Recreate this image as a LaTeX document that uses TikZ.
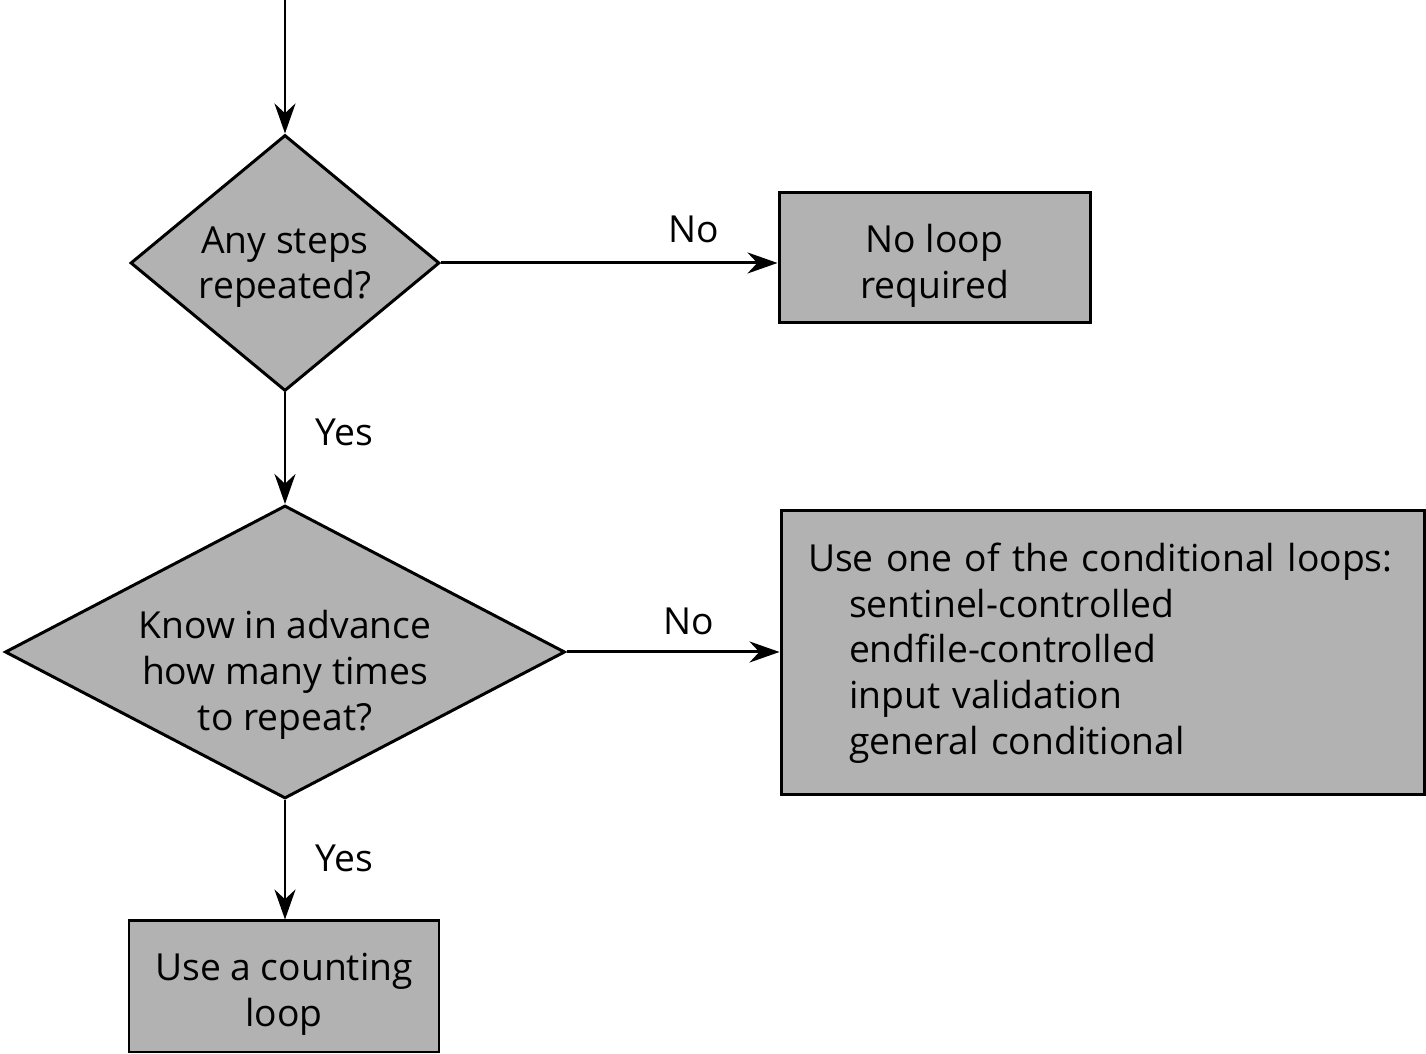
\documentclass[tikz,border=0pt]{standalone}
\usepackage{fontspec}
\setmainfont{Open Sans}
\usepackage{xcolor}
\usepackage{tikz}
\usetikzlibrary{arrows.meta, positioning, calc}
\usetikzlibrary{shapes.geometric}
\definecolor{boxgray}{RGB}{178,178,178}
\newcommand{\dropline}[1]{\rule{0pt}{#1}}

\begin{document}
\begin{tikzpicture}[
  font=\fontsize{10.6}{13}\selectfont,
  decision/.style={diamond, draw, fill=boxgray, line width=0.85pt, inner sep=0pt, align=center},
  action/.style={rectangle, draw, fill=boxgray, line width=0.85pt, align=center},
  flow/.style={-{Stealth[length=3mm,width=2.1mm]}, line width=0.85pt}
]
% Frame
\useasboundingbox (0,0) rectangle (14.26,10.54);
% Entry point
\coordinate (entry) at (2.85,10.54);
% Decisions
\node[decision, aspect=1.2, minimum width=3.09cm, minimum height=2.56cm] (steps) at (2.85,7.91) {\dropline{10pt}Any steps\\repeated?};
\node[decision, aspect=1.91, minimum width=5.60cm, minimum height=2.93cm,
  label={[align=center, yshift=-0.23cm]center:Know in advance\\how many times\\to repeat?}] (advance) at (2.85,4.02) {};
% Outcomes
\node[action, minimum width=3.11cm, minimum height=1.30cm] (noloop) at (9.345,7.96) {\dropline{12.6pt}No loop\\required};
\node[action, text width=5.89cm, inner xsep=0.27cm, minimum height=2.84cm, align=left] (condloops) at (11.025,4.01)
  {Use one of the conditional loops:\\
   \hspace*{0.41cm}sentinel-controlled\\
   \hspace*{0.41cm}endfile-controlled\\
   \hspace*{0.41cm}input validation\\
   \hspace*{0.41cm}general conditional};
\node[action, minimum width=3.10cm, minimum height=1.31cm] (counting) at (2.84,0.675) {\dropline{12.4pt}Use a counting\\loop};
% Connectors
\draw[flow] (entry) -- (steps);
\draw[flow] (steps.east) -- (steps.east -| noloop.west) node[pos=0.75, above=2pt] {No};
\draw[flow] (steps) -- (advance) node[pos=0.36, right=5pt] {Yes};
\draw[flow] (advance.east) -- (advance.east -| condloops.west) node[pos=0.575, above=1pt] {No};
\draw[flow] (advance.south) -- (advance.south |- counting.north) node[pos=0.49, right=5pt] {Yes};
\end{tikzpicture}
\end{document}
